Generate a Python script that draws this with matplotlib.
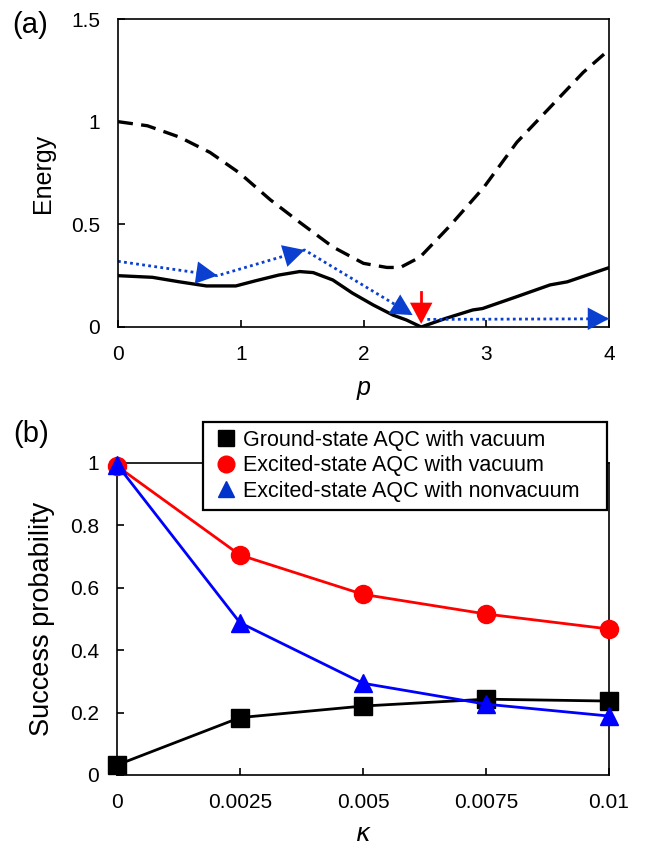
import matplotlib
matplotlib.use("Agg")
import matplotlib.pyplot as plt
from matplotlib.lines import Line2D

plt.rcParams['font.family'] = ['Liberation Sans', 'DejaVu Sans']

# ---------------- data: panel (a) ----------------
p_excited = [0.0, 0.24, 0.5, 0.75, 0.99, 1.24, 1.48, 1.75, 2.0, 2.19, 2.3, 2.46,
             2.7, 2.98, 3.25, 3.52, 3.79, 4.0]
E_excited = [1.0, 0.98, 0.925, 0.85, 0.75, 0.62, 0.51, 0.39, 0.31, 0.29, 0.29, 0.34,
             0.49, 0.68, 0.9, 1.07, 1.24, 1.35]

p_ground = [0.0, 0.28, 0.5, 0.72, 0.96, 1.12, 1.31, 1.48, 1.59, 1.75, 1.91, 2.08,
            2.24, 2.35, 2.47, 2.67, 2.89, 2.97, 3.25, 3.52, 3.66, 4.0]
E_ground = [0.25, 0.242, 0.22, 0.2, 0.2, 0.225, 0.253, 0.27, 0.265, 0.229, 0.165, 0.107,
            0.058, 0.034, 0.0, 0.042, 0.083, 0.09, 0.148, 0.205, 0.22, 0.289]

path_p = [0.0, 0.81, 1.52, 2.40]
path_E = [0.32, 0.25, 0.375, 0.058]
final_p = [2.52, 4.0]
final_E = [0.037, 0.04]

jump_p = [2.47, 2.47]
jump_E = [0.17, 0.015]

p_ticks = [0, 1, 2, 3, 4]
E_ticks = [0, 0.5, 1, 1.5]
E_ticklabels = ['0', '0.5', '1', '1.5']

# ---------------- data: panel (b) ----------------
kappa = [0.0, 0.0025, 0.005, 0.0075, 0.01]
kappa_labels = ['0', '0.0025', '0.005', '0.0075', '0.01']
ground_vac = [0.032, 0.184, 0.221, 0.243, 0.237]
excited_vac = [0.99, 0.705, 0.579, 0.516, 0.468]
excited_nonvac = [0.995, 0.488, 0.294, 0.227, 0.189]
legend_labels = ['Ground-state AQC with vacuum',
                 'Excited-state AQC with vacuum',
                 'Excited-state AQC with nonvacuum']
S_ticks = [0, 0.2, 0.4, 0.6, 0.8, 1]
S_ticklabels = ['0', '0.2', '0.4', '0.6', '0.8', '1']

W, H = 650, 848
fig = plt.figure(figsize=(W / 100, H / 100), dpi=100)

def frac(x0, y0, x1, y1):
    return [x0 / W, 1 - y1 / H, (x1 - x0) / W, (y1 - y0) / H]

ax1 = fig.add_axes(frac(118, 19, 609, 327))
ax2 = fig.add_axes(frac(117, 463, 609, 775))

BLUE_A = '#0a3fd0'
for ax in (ax1, ax2):
    for s in ax.spines.values():
        s.set_linewidth(1.2)
    ax.tick_params(direction='in', length=5, width=1.2, labelsize=15, pad=13,
                   top=False, right=False)

HEAD = '-|>,head_length=0.85,head_width=0.45'

# ----- panel (a) -----
ax1.plot(p_excited, E_excited, color='black', lw=2.4, ls=(0, (4.5, 2.5)))
ax1.plot(p_ground, E_ground, color='black', lw=2.4)
ax1.plot(path_p, path_E, color=BLUE_A, lw=2.0, ls=(0, (1, 1.2)))
ax1.plot(final_p, final_E, color=BLUE_A, lw=2.0, ls=(0, (1, 1.2)))
for i in range(1, len(path_p)):
    x0, y0 = path_p[i - 1], path_E[i - 1]
    x1, y1 = path_p[i], path_E[i]
    t = 0.05
    ax1.annotate('', xy=(x1, y1), xytext=(x1 - t * (x1 - x0), y1 - t * (y1 - y0)),
                 arrowprops=dict(arrowstyle=HEAD, mutation_scale=18, color=BLUE_A,
                                 lw=0, shrinkA=0, shrinkB=0))
ax1.annotate('', xy=(final_p[1], final_E[1]),
             xytext=(final_p[1] - 0.1, final_E[1]),
             arrowprops=dict(arrowstyle=HEAD, mutation_scale=18, color=BLUE_A, lw=0,
                             shrinkA=0, shrinkB=0), annotation_clip=False)
# red arrow: shaft + head
ax1.plot(jump_p, [jump_E[0], jump_E[1] + 0.05], color='#ff0000', lw=2.0)
ax1.annotate('', xy=(jump_p[1], jump_E[1]), xytext=(jump_p[0], jump_E[1] + 0.06),
             arrowprops=dict(arrowstyle=HEAD, mutation_scale=18, color='#ff0000',
                             lw=0, shrinkA=0, shrinkB=0))

ax1.set_xlim(0, 4)
ax1.set_ylim(0, 1.5)
ax1.set_xticks(p_ticks)
ax1.set_yticks(E_ticks)
ax1.set_yticklabels(E_ticklabels)
ax1.set_ylabel('Energy', fontsize=18)
ax1.yaxis.set_label_coords(-0.128, 0.5)
ax1.set_xlabel('p', fontsize=18, fontstyle='italic')
ax1.xaxis.set_label_coords(0.5, -0.16)

# ----- panel (b) -----
ax2.plot(kappa, ground_vac, color='black', lw=2.0, marker='s', ms=13,
         clip_on=False, zorder=3)
ax2.plot(kappa, excited_vac, color='#ff0000', lw=2.0, marker='o', ms=13,
         clip_on=False, zorder=4)
ax2.plot(kappa, excited_nonvac, color='#0000ff', lw=2.0, marker='^', ms=13,
         clip_on=False, zorder=5)
ax2.set_xlim(0, 0.01)
ax2.set_ylim(0, 1)
ax2.set_xticks(kappa)
ax2.set_xticklabels(kappa_labels)
ax2.set_yticks(S_ticks)
ax2.set_yticklabels(S_ticklabels)
ax2.set_ylabel('Success probability', fontsize=19.5)
ax2.yaxis.set_label_coords(-0.126, 0.5)
ax2.set_xlabel(r'$\kappa$', fontsize=18)
ax2.xaxis.set_label_coords(0.5, -0.15)

handles = [Line2D([], [], ls='none', marker='s', ms=12, color='black'),
           Line2D([], [], ls='none', marker='o', ms=12, color='#ff0000'),
           Line2D([], [], ls='none', marker='^', ms=12, color='#0033cc')]
leg = fig.legend(handles, legend_labels, loc='upper left', mode='expand',
                 bbox_to_anchor=(203 / W, 1 - 507 / H, 404 / W, 85 / H),
                 bbox_transform=fig.transFigure,
                 fontsize=15.5, frameon=True, fancybox=False, framealpha=1,
                 edgecolor='black', handlelength=1.4, handletextpad=0.1,
                 labelspacing=0.22, borderpad=0.35, borderaxespad=0)
leg.get_frame().set_linewidth(1.6)
leg.set_zorder(10)

fig.text(12 / W, 1 - 25 / H, '(a)', fontsize=21, va='center', ha='left')
fig.text(13 / W, 1 - 434 / H, '(b)', fontsize=21, va='center', ha='left')

fig.savefig('out.png', dpi=100)
